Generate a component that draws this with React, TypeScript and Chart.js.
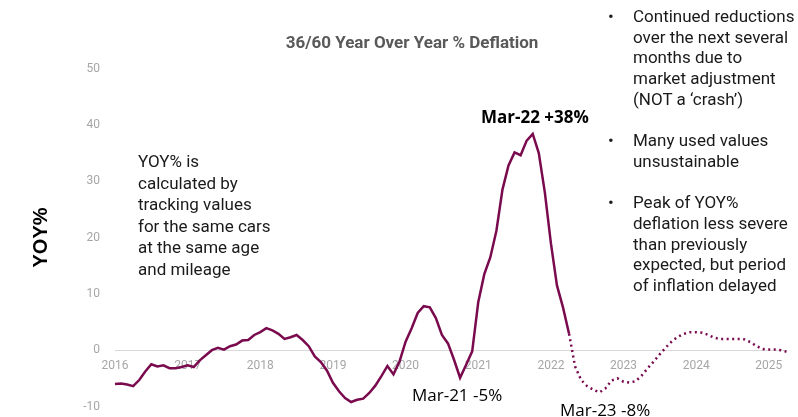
import React, { useEffect, useRef } from "react";
import { Chart, registerables } from "chart.js";

Chart.register(...registerables);

// Months covered: Jan 2016 .. Apr 2025
const years = [2016, 2017, 2018, 2019, 2020, 2021, 2022, 2023, 2024, 2025];
const monthNames = ["Jan", "Feb", "Mar", "Apr", "May", "Jun", "Jul", "Aug", "Sep", "Oct", "Nov", "Dec"];
const lastMonthOf2025 = 4; // data runs through April 2025

// Actual YOY% (Jan 2016 – Apr 2022), solid line
const actualValues = [
  -6.0, -5.9, -6.1, -6.4, -5.3, -3.8, -2.5, -2.9, -2.7, -3.2, -3.2, -3.0,
  -2.7, -3.0, -1.8, -0.9, 0.0, 0.4, 0.1, 0.7, 1.0, 1.7, 1.8, 2.7,
  3.2, 3.9, 3.5, 2.9, 2.0, 2.3, 2.7, 1.8, 0.7, -1.1, -2.1, -3.6,
  -5.8, -7.3, -8.5, -9.2, -8.8, -8.6, -7.6, -6.3, -4.6, -2.8, -4.3, -2.0,
  1.5, 3.9, 6.6, 7.8, 7.6, 5.7, 2.7, 1.2, -1.7, -4.9, -2.6, -0.2,
  8.5, 13.5, 16.5, 21.2, 28.5, 32.8, 35.1, 34.6, 37.2, 38.4, 35.0, 28.0,
  19.0, 11.5, 7.6, 2.9,
];

// Forecast YOY% (Apr 2022 – Apr 2025), dotted line
const forecastValues = [
  2.9, -2.9, -5.3, -6.4, -7.0, -7.5, -6.8, -5.4, -5.0, -5.6, -5.75, -5.5,
  -4.5, -3.2, -2.0, -0.7, 0.5, 1.6, 2.4, 2.9, 3.2, 3.2, 3.1, 2.7,
  2.2, 2.0, 2.0, 2.0, 2.0, 1.9, 1.4, 0.7, 0.2, 0.1, 0.1, 0.0, -0.3,
];

const yTicks = [-10, 0, 10, 20, 30, 40, 50];

const titleText = "36/60 Year Over Year % Deflation";
const yAxisTitle = "YOY%";
const leftNote = ["YOY% is", "calculated by", "tracking values", "for the same cars", "at the same age", "and mileage"];
const bullets = [
  ["Continued reductions", "over the next several", "months due to", "market adjustment", "(NOT a \u2018crash\u2019)"],
  ["Many used values", "unsustainable"],
  ["Peak of YOY%", "deflation less severe", "than previously", "expected, but period", "of inflation delayed"],
];
const peakLabel = "Mar-22 +38%";
const lowLabel = "Mar-21 -5%";
const forecastLowLabel = "Mar-23 -8%";

const LINE_COLOR = "#7a0a4e";

function buildLabels(): string[] {
  const out: string[] = [];
  years.forEach((y) => {
    const n = y === 2025 ? lastMonthOf2025 : 12;
    for (let i = 0; i < n; i++) out.push(`${monthNames[i]} ${y}`);
  });
  return out;
}

export default function App() {
  const canvasRef = useRef<HTMLCanvasElement | null>(null);

  useEffect(() => {
    document.body.style.margin = "0";
    const labels = buildLabels();
    const actualData = labels.map((_, i) => (i < actualValues.length ? actualValues[i] : null));
    const fcStart = actualValues.length - 1;
    const forecastData = labels.map((_, i) =>
      i >= fcStart && i - fcStart < forecastValues.length ? forecastValues[i - fcStart] : null
    );

    const chart = new Chart(canvasRef.current as HTMLCanvasElement, {
      type: "line",
      data: {
        labels,
        datasets: [
          {
            data: actualData,
            borderColor: LINE_COLOR,
            borderWidth: 2.5,
            pointRadius: 0,
            tension: 0,
            spanGaps: false,
          },
          {
            data: forecastData,
            borderColor: LINE_COLOR,
            borderWidth: 2.5,
            borderDash: [2, 3.5],
            pointRadius: 0,
            tension: 0,
            spanGaps: false,
          },
        ],
      },
      options: {
        animation: false,
        responsive: false,
        maintainAspectRatio: false,
        events: [],
        layout: { padding: { left: 0, right: 11, top: 68.5, bottom: 10.5 } },
        plugins: { legend: { display: false }, tooltip: { enabled: false }, title: { display: false } },
        scales: {
          x: {
            type: "category",
            position: { y: 0 } as any,
            offset: false,
            grid: { display: false, drawTicks: false },
            border: { display: false },
            ticks: {
              autoSkip: false,
              maxRotation: 0,
              padding: 9,
              color: "#a6a6a6",
              font: { family: "Roboto", size: 12 },
              callback: (_v: any, i: number) => (labels[i].startsWith("Jan") ? labels[i].slice(4) : ""),
            },
            afterFit: (s: any) => {
              s.height = 0;
            },
          },
          y: {
            min: yTicks[0],
            max: yTicks[yTicks.length - 1],
            afterBuildTicks: (s: any) => {
              s.ticks = yTicks.map((v) => ({ value: v }));
            },
            grid: {
              drawTicks: false,
              color: (ctx: any) => (ctx.tick && ctx.tick.value === 0 ? "#d9d9d9" : "rgba(0,0,0,0)"),
            },
            border: { display: false },
            ticks: {
              padding: 15,
              color: "#a6a6a6",
              font: { family: "Roboto", size: 12 },
            },
            title: {
              display: true,
              text: yAxisTitle,
              color: "#000",
              font: { family: "Liberation Sans", size: 20, weight: "bold" },
              padding: { top: 29, bottom: 0 },
            },
            afterFit: (s: any) => {
              s.width = 115;
              s.paddingTop = 0;
              s.paddingBottom = 0;
            },
          },
        },
      },
    });
    return () => chart.destroy();
  }, []);

  const noteStyle: React.CSSProperties = {
    position: "absolute",
    fontFamily: "Roboto",
    fontSize: 17,
    lineHeight: "21.5px",
    color: "#1a1a1a",
    whiteSpace: "nowrap",
  };

  return (
    <div style={{ position: "fixed", left: 0, top: 0, width: 798, height: 417, background: "#fff", overflow: "hidden" }}>
      <canvas ref={canvasRef} width={798} height={417} style={{ position: "absolute", left: 0, top: 0, width: 798, height: 417 }} />
      <div
        style={{
          position: "absolute",
          left: 412,
          top: 32,
          transform: "translateX(-50%)",
          fontFamily: "Roboto",
          fontWeight: "bold",
          fontSize: 17,
          color: "#595959",
          whiteSpace: "nowrap",
        }}
      >
        {titleText}
      </div>
      <div style={{ ...noteStyle, left: 138, top: 151 }}>
        {leftNote.map((l, i) => (
          <div key={i}>{l}</div>
        ))}
      </div>
      <div style={{ ...noteStyle, left: 608, top: 6, lineHeight: "20.7px" }}>
        {bullets.map((b, bi) => (
          <div key={bi} style={{ position: "relative", paddingLeft: 25, marginBottom: 20.7 }}>
            <span style={{ position: "absolute", left: 0, top: 0 }}>{"\u2022"}</span>
            {b.map((l, i) => (
              <div key={i}>{l}</div>
            ))}
          </div>
        ))}
      </div>
      <div
        style={{
          position: "absolute",
          left: 481,
          top: 105,
          fontFamily: "Open Sans",
          fontWeight: "bold",
          fontSize: 17,
          color: "#000",
          whiteSpace: "nowrap",
        }}
      >
        {peakLabel}
      </div>
      <div style={{ position: "absolute", left: 412, top: 383, fontFamily: "Open Sans", fontSize: 17, color: "#000", whiteSpace: "nowrap" }}>
        {lowLabel}
      </div>
      <div style={{ position: "absolute", left: 560, top: 398, fontFamily: "Open Sans", fontSize: 17, color: "#000", whiteSpace: "nowrap" }}>
        {forecastLowLabel}
      </div>
    </div>
  );
}
